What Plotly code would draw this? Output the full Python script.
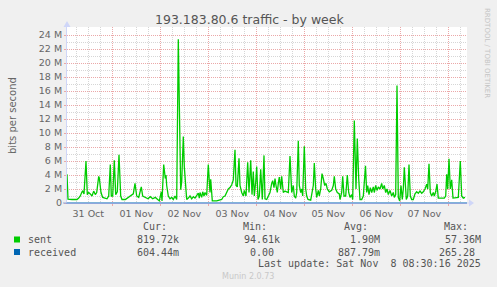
import pandas as pd
import plotly.graph_objects as go

# ---------------- data ----------------
START = pd.Timestamp("2025-10-31 00:00")
# hours since 31 Oct 00:00 at which the 'sent' series was read
sent_hours = [
    1.35, 1.85, 3.85, 6.35, 7.2, 8.0, 8.85, 9.2, 9.85, 10.85, 11.5, 12.2, 13.0, 13.85, 14.7,
    15.5, 16.2, 17.2, 17.5, 18.35, 19.2, 20.5, 21.35, 22.2, 23.0, 23.5, 24.2, 25.0, 25.7, 26.5,
    27.35, 28.2, 28.85, 30.5, 32.2, 33.5, 34.5, 35.35, 36.2, 37.2, 38.5, 39.2, 40.5, 41.85, 43.0,
    44.2, 45.5, 46.7, 47.5, 48.5, 48.85, 49.7, 50.5, 50.85, 51.2, 52.0, 52.85, 53.7, 54.5, 55.35,
    56.2, 57.0, 58.2, 58.7, 59.5, 60.0, 60.35, 60.85, 61.2, 62.0, 62.85, 63.7, 64.5, 65.35, 66.2,
    67.0, 67.5, 67.85, 68.7, 69.2, 69.85, 70.35, 71.2, 72.0, 72.85, 73.2, 74.0, 76.2, 78.7, 79.5,
    80.35, 81.2, 82.0, 82.85, 83.7, 84.5, 85.35, 85.85, 86.5, 87.35, 87.85, 88.7, 89.5, 90.0, 90.85,
    91.7, 92.35, 93.2, 93.85, 94.5, 95.0, 95.7, 96.2, 96.85, 97.5, 98.2, 99.0, 99.85, 100.35, 101.2,
    102.0, 102.85, 103.7, 104.2, 104.85, 105.35, 105.85, 106.5, 107.0, 107.5, 108.2, 108.7, 109.5, 110.35, 111.2,
    112.0, 112.85, 113.7, 114.5, 115.0, 115.7, 116.2, 117.0, 117.5, 118.2, 118.7, 119.2, 120.0, 120.7, 121.2,
    121.85, 123.2, 124.5, 125.0, 125.7, 126.2, 127.0, 127.5, 128.2, 128.85, 129.5, 130.2, 130.85, 131.5, 132.5,
    133.7, 134.5, 135.0, 135.7, 136.5, 137.5, 137.85, 138.7, 139.2, 139.85, 140.7, 141.5, 142.2, 142.85, 143.7,
    144.2, 145.0, 145.85, 146.5, 147.2, 147.85, 148.7, 149.5, 150.6, 151.2, 151.7, 152.35, 153.0, 153.7, 154.5,
    155.0, 155.7, 156.35, 157.0, 157.85, 158.7, 159.2, 160.0, 160.7, 161.35, 162.0, 162.85, 163.7, 164.5, 165.0,
    165.7, 166.35, 167.0, 167.7, 168.35, 169.0, 169.5, 170.0, 171.0, 171.7, 172.35, 173.0, 173.7, 174.5, 175.35,
    176.2, 177.0, 177.85, 178.7, 179.5, 180.35, 181.2, 181.7, 182.35, 183.0, 183.7, 184.5, 185.0, 185.7, 186.35,
    187.0, 188.7, 190.0, 190.7, 191.2, 191.7, 192.35, 193.0, 193.7, 194.35, 196.2, 197.0, 198.0, 198.7, 199.5,
    200.35,
]
# sent traffic, Mbit/s
sent_mbps = [
    4.1, 0.55, 0.5, 0.5, 0.7, 1.0, 1.6, 1.7, 1.3, 6.0, 1.2, 1.5, 1.3, 1.0, 1.7,
    1.2, 1.5, 3.8, 3.6, 1.5, 0.8, 0.7, 0.6, 1.0, 5.5, 1.0, 1.0, 6.1, 1.2, 1.6,
    6.9, 1.0, 0.5, 0.5, 0.8, 1.0, 1.3, 2.8, 1.0, 0.8, 2.3, 1.0, 0.8, 0.6, 0.9,
    0.6, 0.8, 0.5, 0.3, 1.6, 0.3, 5.5, 3.5, 4.0, 2.5, 1.0, 0.6, 0.8, 0.5, 1.0,
    0.5, 23.4, 1.9, 3.0, 9.5, 5.2, 3.5, 1.5, 0.5, 0.7, 1.0, 0.6, 0.9, 0.7, 1.0,
    1.4, 0.7, 1.5, 0.8, 1.6, 1.0, 1.5, 1.1, 5.5, 1.5, 3.4, 0.3, 0.3, 0.5, 0.9,
    1.0, 1.5, 2.0, 2.2, 2.6, 3.3, 7.6, 2.5, 2.3, 6.4, 2.5, 1.5, 1.0, 1.8, 1.0,
    5.8, 1.5, 6.1, 1.2, 4.5, 1.0, 3.0, 5.2, 0.5, 1.0, 4.8, 0.5, 6.8, 0.6, 0.5,
    1.0, 1.5, 2.8, 3.2, 2.2, 3.5, 2.5, 1.5, 2.8, 3.7, 2.0, 3.8, 1.5, 1.7, 1.6,
    1.5, 6.7, 1.5, 2.5, 1.0, 0.7, 1.5, 8.9, 2.5, 1.5, 2.0, 1.0, 8.1, 2.0, 1.0,
    0.5, 0.4, 2.5, 5.7, 2.0, 0.8, 1.8, 1.0, 2.0, 4.2, 3.5, 2.5, 2.8, 2.0, 1.6,
    1.8, 2.5, 3.8, 2.0, 1.5, 1.3, 0.5, 1.5, 3.8, 1.0, 1.0, 4.0, 1.5, 0.8, 1.2,
    0.5, 11.8, 2.0, 9.2, 3.5, 0.5, 0.5, 1.0, 5.3, 1.5, 2.5, 1.2, 2.2, 1.5, 2.3,
    1.5, 2.5, 1.8, 2.3, 2.0, 2.8, 2.0, 2.5, 1.5, 2.0, 1.2, 1.8, 1.0, 1.5, 0.8,
    1.2, 16.8, 0.8, 0.3, 2.5, 0.5, 2.0, 5.1, 0.5, 1.0, 5.5, 1.0, 0.5, 0.5, 1.3,
    1.6, 1.4, 1.7, 1.4, 1.6, 2.0, 2.7, 2.0, 5.6, 1.5, 1.0, 1.5, 1.0, 1.6, 2.7,
    0.7, 0.7, 0.7, 1.0, 4.1, 2.0, 6.3, 2.0, 3.3, 0.7, 0.7, 0.8, 6.0, 1.0, 0.7,
    0.8,
]
received_hours = [1.35, 201.35]
received_mbps = [0.00000089, 0.00000060]   # ~0.9 / 0.6 bit/s -> sits on the zero line

y_tick_values = [0, 2, 4, 6, 8, 10, 12, 14, 16, 18, 20, 22, 24]
y_tick_labels = ["0", "2 M", "4 M", "6 M", "8 M", "10 M", "12 M", "14 M", "16 M",
                 "18 M", "20 M", "22 M", "24 M"]

series_names = ["sent", "received"]
series_colors = ["#00CC00", "#0066B3"]
stat_headers = ["Cur:", "Min:", "Avg:", "Max:"]
stat_sent = ["819.72k", "94.61k", "1.90M", "57.36M"]
stat_received = ["604.44m", "0.00", "887.79m", "265.28"]

TITLE = "193.183.80.6 traffic - by week"
Y_TITLE = "bits per second"
LAST_UPDATE = "Last update: Sat Nov\u00a0\u00a08 08:30:16 2025"
FOOTER = "Munin 2.0.73"
SIDE = "RRDTOOL / TOBI OETIKER"

view_hours = [1.35, 201.35]
y_top = 176 / 7.0

# ---------------- layout constants (pixels) ----------------
W, H = 497, 287
L, R, T, B = 67, 30, 27, 84
PW, PH = W - L - R, H - T - B
FONT = "DejaVu Sans"
MONO = "DejaVu Sans Mono"
FG = "#666666"
TXT = "#555555"
MGRID = "#EBA8A8"
GRID = "#D6D6D6"
AXIS = "#CFD6F8"
BASE = "#8EA6DC"


def px(xp, yp):
    return (xp - L) / PW, (H - B - yp) / PH


def to_time(hours):
    return [START + pd.Timedelta(hours=h) for h in hours]


fig = go.Figure()
fig.add_trace(go.Scatter(x=to_time(received_hours), y=received_mbps, mode="lines",
                         line=dict(color=series_colors[1], width=1), hoverinfo="skip"))
fig.add_trace(go.Scatter(x=to_time(sent_hours), y=sent_mbps, mode="lines",
                         line=dict(color=series_colors[0], width=1.3), hoverinfo="skip"))

fig.update_layout(
    width=W, height=H,
    margin=dict(l=L, r=R, t=T, b=B, pad=0),
    paper_bgcolor="#F0F0F0", plot_bgcolor="#FFFFFF",
    showlegend=False,
    font=dict(family=FONT, size=9.5, color=FG),
    xaxis=dict(
        type="date", range=to_time(view_hours),
        tick0=START, dtick=86400000, ticklabelmode="period", tickformat="%d %b",
        showgrid=True, gridcolor=MGRID, griddash="1px,1px", gridwidth=1,
        minor=dict(dtick=6 * 3600000, tick0=START, showgrid=True, gridcolor=GRID,
                   griddash="1px,1px", gridwidth=1, ticks=""),
        showline=True, linecolor=BASE, linewidth=1,
        ticks="outside", ticklen=2, tickcolor=MGRID,
        tickfont=dict(family=FONT, size=9.5, color=FG),
        zeroline=False, fixedrange=True,
    ),
    yaxis=dict(
        range=[0, y_top], tickvals=y_tick_values, ticktext=y_tick_labels,
        showgrid=True, gridcolor=MGRID, griddash="1px,1px", gridwidth=1,
        minor=dict(dtick=1, showgrid=True, gridcolor=GRID, griddash="1px,1px",
                   gridwidth=1, ticks=""),
        showline=True, linecolor=AXIS, linewidth=1,
        ticks="outside", ticklen=2, tickcolor=MGRID,
        tickfont=dict(family=FONT, size=9.5, color=FG),
        zeroline=False, fixedrange=True,
    ),
)

ann = []
shapes = []


def text(xp, yp, s, anchor="center", font=FONT, size=9.5, color=FG, angle=0):
    x, y = px(xp, yp)
    ann.append(dict(x=x, y=y, xref="paper", yref="paper", text=s, showarrow=False,
                    xanchor=anchor, yanchor="middle", textangle=angle,
                    font=dict(family=font, size=size, color=color)))


text(249, 20, TITLE, size=12.5, color=TXT)
text(12, 115, Y_TITLE, size=10, color=FG, angle=-90)
text(487, 53, SIDE, size=7, color="#C4C4C4", angle=90)

# arrows at axis ends
x0, yt = px(L, 27)
_, ytip = px(L, 21)
dx = 3.5 / PW
shapes.append(dict(type="path", xref="paper", yref="paper",
                   path=f"M {-dx} {yt} L {dx} {yt} L 0 {ytip} Z",
                   fillcolor=AXIS, line=dict(width=0)))
xl, _ = px(63, 203)
xtip, _ = px(474, 203)
xb, _ = px(469, 203)
dy = 3.5 / PH
shapes.append(dict(type="line", xref="paper", yref="paper", x0=xl, x1=0, y0=0, y1=0,
                   line=dict(color=BASE, width=1)))
shapes.append(dict(type="line", xref="paper", yref="paper", x0=1, x1=xb, y0=0, y1=0,
                   line=dict(color=AXIS, width=1)))
shapes.append(dict(type="path", xref="paper", yref="paper",
                   path=f"M {xb} {-dy} L {xb} {dy} L {xtip} 0 Z",
                   fillcolor=AXIS, line=dict(width=0)))

# legend block
col_right_hdr = [168.5, 269, 369.5, 470]
col_right_val = [181, 282, 382, 483]
for s, xr_ in zip(stat_headers, col_right_hdr):
    text(xr_, 227, s, anchor="right", font=MONO, size=10, color=TXT)
rows_y = [239.5, 252]
for name, col, yv, vals in zip(series_names, series_colors, rows_y, [stat_sent, stat_received]):
    a, b = px(14, yv - 3)
    c, d = px(20, yv + 3)
    shapes.append(dict(type="rect", xref="paper", yref="paper", x0=a, x1=c, y0=d, y1=b,
                       fillcolor=col, line=dict(width=0)))
    text(26, yv, name, anchor="left", font=MONO, size=10, color=TXT)
    for v, xr_ in zip(vals, col_right_val):
        adj = 0 if v[-1].isalpha() else 6
        text(xr_ - adj, yv, v, anchor="right", font=MONO, size=10, color=TXT)
text(483, 263.5, LAST_UPDATE, anchor="right", font=MONO, size=10, color=TXT)
text(248, 276, FOOTER, size=8, color="#C8C8C8")

fig.update_layout(annotations=ann, shapes=shapes)
fig.write_html("out.html")
